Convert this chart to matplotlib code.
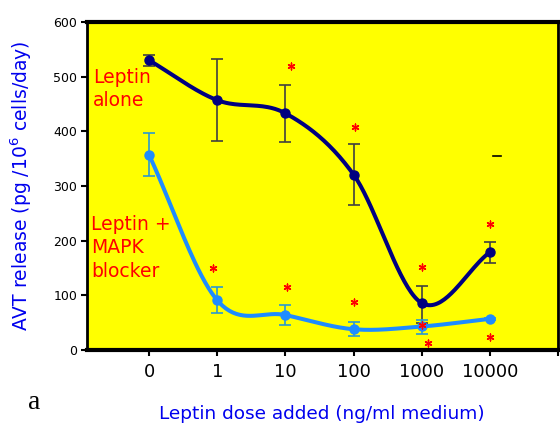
import numpy as np
import matplotlib.pyplot as plt

doses = ["0", "1", "10", "100", "1000", "10000"]

alone = [530, 457, 433, 321, 86, 179]
alone_lo = [520, 383, 380, 266, 49, 160]
alone_hi = [540, 532, 485, 376, 117, 198]

mapk = [357, 91, 64, 38, 43, 57]
mapk_lo = [318, 67, 45, 26, 30, 55]
mapk_hi = [397, 115, 83, 51, 54, 59]

# significance stars (category position, value)
star_x = [2.09, 3.02, 4.01, 5.0, 0.94, 2.03, 3.0, 4.0, 4.1, 5.0]
star_y = [519, 408, 152, 230, 150, 115, 88, 46, 13, 24]

NAVY = "#000080"
LIGHT = "#1e8cff"


def smooth(xs, ys, n=40):
    # catmull-rom curve through the points, similar to Excel smoothed lines
    p = np.column_stack([xs, ys]).astype(float)
    p = np.vstack([2 * p[0] - p[1], p, 2 * p[-1] - p[-2]])
    out = []
    t = np.linspace(0, 1, n)[:, None]
    for i in range(1, len(p) - 2):
        p0, p1, p2, p3 = p[i - 1], p[i], p[i + 1], p[i + 2]
        seg = 0.5 * ((2 * p1) + (-p0 + p2) * t
                     + (2 * p0 - 5 * p1 + 4 * p2 - p3) * t ** 2
                     + (-p0 + 3 * p1 - 3 * p2 + p3) * t ** 3)
        out.append(seg)
    out = np.vstack(out)
    return out[:, 0], out[:, 1]


fig = plt.figure(figsize=(5.6, 4.26), dpi=100)
ax = fig.add_axes([0.1554, 0.1784, 0.841, 0.770])
ax.set_facecolor("#ffff00")

x = np.arange(len(doses))

for vals, lo, hi, col, ecol in [(alone, alone_lo, alone_hi, NAVY, "#404040"),
                                 (mapk, mapk_lo, mapk_hi, LIGHT, "#2a9ad0")]:
    vals = np.array(vals)
    yerr = [vals - np.array(lo), np.array(hi) - vals]
    ax.errorbar(x, vals, yerr=yerr, fmt="none", ecolor=ecol, elinewidth=1.2,
                capsize=4, capthick=1.2, zorder=2)
    sx, sy = smooth(x, vals)
    ax.plot(sx, sy, color=col, lw=2.9, zorder=3, solid_capstyle="round")
    ax.plot(x, vals, "o", color=col, ms=6.5, zorder=4)

ax.scatter(star_x, star_y, marker=(6, 2, 0), s=24, color="red", lw=1.0, zorder=5)
ax.plot([5.05, 5.16], [355, 355], color="black", lw=1.2, zorder=5)

ax.text(-0.82, 516, "Leptin\nalone", color="red", fontsize=13.5, linespacing=1.3,
        va="top")
ax.text(-0.85, 247, "Leptin +\nMAPK\nblocker", color="red", fontsize=13.5,
        linespacing=1.3, va="top")

ax.set_xlim(-0.91, 6.0)
ax.set_ylim(0, 600)
ax.set_xticks(list(x) + [6])
ax.set_xticklabels(doses + [""], fontsize=13)
ax.set_yticks(range(0, 601, 100))
ax.tick_params(axis="y", labelsize=9, length=4, width=1.5, pad=3)
ax.tick_params(axis="x", length=4, width=1.5, pad=5)

for side, w in [("top", 3), ("bottom", 3), ("left", 2), ("right", 2)]:
    ax.spines[side].set_linewidth(w)
    ax.spines[side].set_color("black")

ax.set_ylabel("AVT release (pg /10$^6$ cells/day)", color="#0000ee", fontsize=13.5,
              labelpad=14)
fig.text(0.575, 0.027, "Leptin dose added (ng/ml medium)", color="#0000ee",
         fontsize=13.3, ha="center", va="center")
fig.text(0.05, 0.04, "a", fontsize=20, family="Liberation Serif")

fig.savefig("out.png", dpi=100)
